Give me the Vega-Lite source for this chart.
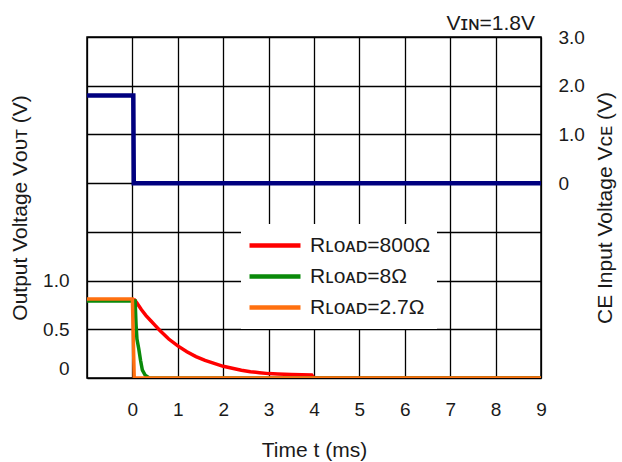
{
  "$schema": "https://vega.github.io/schema/vega-lite/v6.json",
  "autosize": {"type": "none"},
  "padding": {"left": 87, "top": 37, "right": 81, "bottom": 84},
  "width": 454,
  "height": 341,
  "background": "white",
  "config": {
    "font": "Liberation Sans, DejaVu Sans",
    "view": {"stroke": "#000000", "strokeWidth": 1.5},
    "axis": {"gridColor": "#000000", "gridWidth": 1.3, "gridOpacity": 1, "domain": false, "ticks": false, "labelColor": "#1a1a1a", "titleColor": "#1a1a1a", "labelFont": "Liberation Sans, DejaVu Sans", "titleFont": "Liberation Sans, DejaVu Sans", "titleFontWeight": "normal", "labelFontSize": 19, "titleFontSize": 21}
  },
  "title": {"text": "Vɪɴ=1.8V", "anchor": "end", "frame": "group", "fontSize": 21, "fontWeight": "normal", "color": "#1a1a1a", "offset": 4, "dx": -6, "dy": 10, "font": "Liberation Sans, DejaVu Sans"},
  "datasets": {
    "vout": [
      {"t": -1, "v": 0.80, "s": "Rʟᴏᴀᴅ=800Ω"},
      {"t": 0.05, "v": 0.80, "s": "Rʟᴏᴀᴅ=800Ω"},
      {"t": 0.1, "v": 0.77, "s": "Rʟᴏᴀᴅ=800Ω"},
      {"t": 0.2, "v": 0.70, "s": "Rʟᴏᴀᴅ=800Ω"},
      {"t": 0.3, "v": 0.64, "s": "Rʟᴏᴀᴅ=800Ω"},
      {"t": 0.4, "v": 0.59, "s": "Rʟᴏᴀᴅ=800Ω"},
      {"t": 0.5, "v": 0.54, "s": "Rʟᴏᴀᴅ=800Ω"},
      {"t": 0.6, "v": 0.49, "s": "Rʟᴏᴀᴅ=800Ω"},
      {"t": 0.8, "v": 0.40, "s": "Rʟᴏᴀᴅ=800Ω"},
      {"t": 1.0, "v": 0.33, "s": "Rʟᴏᴀᴅ=800Ω"},
      {"t": 1.2, "v": 0.27, "s": "Rʟᴏᴀᴅ=800Ω"},
      {"t": 1.4, "v": 0.22, "s": "Rʟᴏᴀᴅ=800Ω"},
      {"t": 1.6, "v": 0.18, "s": "Rʟᴏᴀᴅ=800Ω"},
      {"t": 1.8, "v": 0.15, "s": "Rʟᴏᴀᴅ=800Ω"},
      {"t": 2.0, "v": 0.12, "s": "Rʟᴏᴀᴅ=800Ω"},
      {"t": 2.2, "v": 0.10, "s": "Rʟᴏᴀᴅ=800Ω"},
      {"t": 2.4, "v": 0.08, "s": "Rʟᴏᴀᴅ=800Ω"},
      {"t": 2.6, "v": 0.065, "s": "Rʟᴏᴀᴅ=800Ω"},
      {"t": 2.8, "v": 0.055, "s": "Rʟᴏᴀᴅ=800Ω"},
      {"t": 3.0, "v": 0.045, "s": "Rʟᴏᴀᴅ=800Ω"},
      {"t": 3.2, "v": 0.04, "s": "Rʟᴏᴀᴅ=800Ω"},
      {"t": 3.5, "v": 0.035, "s": "Rʟᴏᴀᴅ=800Ω"},
      {"t": 3.95, "v": 0.03, "s": "Rʟᴏᴀᴅ=800Ω"},
      {"t": 4.0, "v": 0.0, "s": "Rʟᴏᴀᴅ=800Ω"},
      {"t": 9, "v": 0.0, "s": "Rʟᴏᴀᴅ=800Ω"},
      {"t": -1, "v": 0.79, "s": "Rʟᴏᴀᴅ=8Ω"},
      {"t": 0.06, "v": 0.79, "s": "Rʟᴏᴀᴅ=8Ω"},
      {"t": 0.08, "v": 0.55, "s": "Rʟᴏᴀᴅ=8Ω"},
      {"t": 0.10, "v": 0.40, "s": "Rʟᴏᴀᴅ=8Ω"},
      {"t": 0.14, "v": 0.30, "s": "Rʟᴏᴀᴅ=8Ω"},
      {"t": 0.18, "v": 0.18, "s": "Rʟᴏᴀᴅ=8Ω"},
      {"t": 0.22, "v": 0.08, "s": "Rʟᴏᴀᴅ=8Ω"},
      {"t": 0.28, "v": 0.03, "s": "Rʟᴏᴀᴅ=8Ω"},
      {"t": 0.37, "v": 0.0, "s": "Rʟᴏᴀᴅ=8Ω"},
      {"t": 9, "v": 0.0, "s": "Rʟᴏᴀᴅ=8Ω"},
      {"t": -1, "v": 0.81, "s": "Rʟᴏᴀᴅ=2.7Ω"},
      {"t": 0.0, "v": 0.81, "s": "Rʟᴏᴀᴅ=2.7Ω"},
      {"t": 0.04, "v": 0.0, "s": "Rʟᴏᴀᴅ=2.7Ω"},
      {"t": 9, "v": 0.0, "s": "Rʟᴏᴀᴅ=2.7Ω"}
    ],
    "vce": [
      {"t": -1, "vce": 1.8},
      {"t": 0.02, "vce": 1.8},
      {"t": 0.03, "vce": 0},
      {"t": 9, "vce": 0}
    ]
  },
  "layer": [
    {
      "data": {"name": "vout"},
      "mark": {"type": "line", "strokeWidth": 3.5, "clip": true},
      "encoding": {
        "x": {"field": "t", "type": "quantitative", "scale": {"domain": [-1, 9], "nice": false, "zero": false},
          "axis": {"values": [-1, 0, 1, 2, 3, 4, 5, 6, 7, 8, 9], "grid": true, "labelExpr": "datum.value < 0 ? '' : datum.label", "labelPadding": 22, "labelFlush": false, "title": "Time t (ms)", "titlePadding": 20}},
        "y": {"field": "v", "type": "quantitative", "scale": {"domain": [0, 3.5], "nice": false},
          "axis": {"values": [0, 0.5, 1, 1.5, 2, 2.5, 3, 3.5], "grid": true, "labelExpr": "datum.value > 1 ? '' : (datum.value == 0 ? '0' : format(datum.value, '.1f'))", "labelPadding": 18, "labelFlush": true, "title": "Output Voltage Vᴏᴜᴛ (V)", "titlePadding": 12}},
        "color": {"field": "s", "type": "nominal",
          "scale": {"domain": ["Rʟᴏᴀᴅ=800Ω", "Rʟᴏᴀᴅ=8Ω", "Rʟᴏᴀᴅ=2.7Ω"], "range": ["#ff0000", "#0a8a0a", "#ff7010"]},
          "legend": {"orient": "none", "legendX": 154, "legendY": 187, "title": null, "fillColor": "white", "padding": 6, "symbolType": "stroke", "symbolSize": 2600, "symbolStrokeWidth": 4.5, "labelFontSize": 21, "labelFont": "Liberation Sans, DejaVu Sans", "labelColor": "#1a1a1a", "labelOffset": 7, "clipHeight": 31, "rowPadding": 0}}
      }
    },
    {
      "data": {"name": "vce"},
      "mark": {"type": "line", "strokeWidth": 4.5, "color": "#00007f", "clip": true},
      "encoding": {
        "x": {"field": "t", "type": "quantitative"},
        "y": {"field": "vce", "type": "quantitative", "scale": {"domain": [-4, 3], "nice": false},
          "axis": {"orient": "right", "values": [0, 1, 2, 3], "grid": false, "labelExpr": "datum.value == 0 ? '0' : format(datum.value, '.1f')", "labelPadding": 17, "title": "CE Input Voltage Vᴄᴇ (V)", "titleAngle": -90, "titleBaseline": "top", "titlePadding": 10}}
      }
    }
  ],
  "resolve": {"scale": {"y": "independent"}}
}
